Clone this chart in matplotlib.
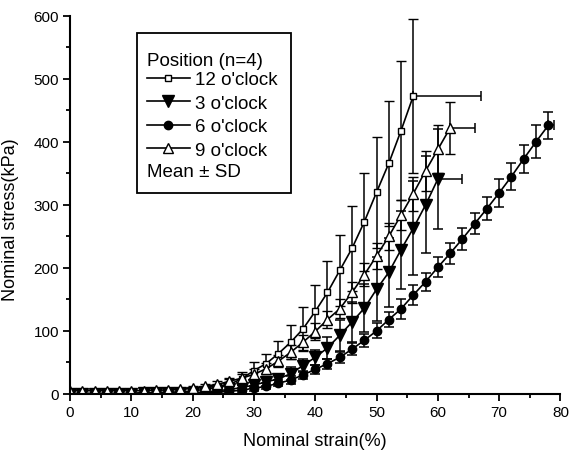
import numpy as np
import matplotlib
matplotlib.use('Agg')
import matplotlib.pyplot as plt
from matplotlib.patches import Rectangle

plt.rcParams['font.family'] = ['Liberation Sans', 'DejaVu Sans']

# strain (%) sampled every 2 %
strain_12 = np.arange(0, 57, 2)
stress_12 = [1, 1, 1, 1, 1, 1, 2, 2, 3, 3, 5, 7, 10, 15, 24, 37, 48, 64, 82, 103,
             131, 161, 196, 231, 273, 320, 366, 418, 473]
sd_12 = [1, 1, 1, 1, 1, 1, 1, 1, 2, 2, 3, 4, 6, 8, 10, 13, 16, 20, 27, 35,
         42, 50, 56, 68, 78, 88, 99, 110, 122]

strain_3 = np.arange(0, 61, 2)
stress_3 = [0, 0, 0, 0, 0, 0, 1, 1, 1, 1, 2, 3, 5, 7, 10, 14, 19, 24, 32, 45,
            58, 73, 93, 114, 136, 166, 193, 229, 263, 300, 341]
sd_3 = [1, 1, 1, 1, 1, 1, 1, 1, 1, 1, 1, 2, 2, 3, 4, 5, 6, 8, 10, 11,
        12, 18, 25, 32, 38, 51, 55, 62, 75, 77, 80]

strain_6 = np.arange(0, 79, 2)
stress_6 = [0, 0, 0, 0, 0, 0, 0, 1, 1, 1, 1, 2, 3, 4, 6, 9, 12, 17, 22, 30,
            39, 48, 58, 71, 85, 100, 118, 135, 157, 178, 201, 223, 246, 270, 294, 319,
            345, 373, 400, 426]
sd_6 = [1, 1, 1, 1, 1, 1, 1, 1, 1, 1, 1, 1, 2, 2, 3, 4, 5, 5, 6, 7,
        7, 8, 9, 10, 10, 12, 12, 16, 16, 14, 16, 17, 17, 17, 18, 22,
        21, 22, 26, 22]

strain_9 = np.arange(0, 63, 2)
stress_9 = [5, 5, 5, 5, 5, 5, 5, 6, 6, 7, 9, 12, 15, 20, 25, 31, 40, 52, 66, 82,
            99, 118, 135, 161, 189, 219, 250, 284, 318, 354, 388, 422]
sd_9 = [1, 1, 1, 1, 1, 1, 1, 1, 2, 2, 3, 4, 5, 6, 7, 8, 9, 10, 11, 12,
        13, 14, 15, 16, 18, 20, 22, 24, 27, 32, 38, 42]

# strain SD at the final point of each curve
xsd_end = {'12': 11, '3': 4, '6': 1, '9': 4}

fig = plt.figure(figsize=(5.69, 4.56), dpi=100)
ax = fig.add_axes([0.123, 0.134, 0.862, 0.829])

common = dict(color='black', lw=1.2, elinewidth=1.1, capsize=3.5, capthick=1.1)

series = [
    ('12', strain_12, stress_12, sd_12, dict(marker='s', ms=4, mfc='white', mew=1.0), "12 o'clock"),
    ('3', strain_3, stress_3, sd_3, dict(marker='v', ms=8, mfc='black'), "3 o'clock"),
    ('6', strain_6, stress_6, sd_6, dict(marker='o', ms=6, mfc='black'), "6 o'clock"),
    ('9', strain_9, stress_9, sd_9, dict(marker='^', ms=7, mfc='white', mew=1.0), "9 o'clock"),
]

handles = []
for key, x, y, sd, mk, lab in series:
    ax.errorbar(x, y, yerr=sd, mec='black', label=lab, **mk, **common)
    ax.errorbar(x[-1], y[-1], xerr=[[0], [xsd_end[key]]], fmt='none',
                **{k: v for k, v in common.items() if k != 'lw'})
    h, = ax.plot([], [], color='black', lw=1.2, mec='black', **mk)
    handles.append(h)

ax.set_xlim(0, 80)
ax.set_ylim(0, 600)
ax.set_xticks(np.arange(0, 81, 10))
ax.set_xticks(np.arange(5, 80, 10), minor=True)
ax.set_yticks(np.arange(0, 601, 100))
ax.set_yticks(np.arange(50, 600, 100), minor=True)
ax.tick_params(which='major', direction='out', length=5, width=1.3, labelsize=11, pad=3)
ax.tick_params(which='minor', direction='out', length=3, width=1.3)
for s in ['top', 'right']:
    ax.spines[s].set_visible(False)
for s in ['left', 'bottom']:
    ax.spines[s].set_linewidth(1.5)

ax.set_xlabel('Nominal strain(%)', fontsize=13, labelpad=9)
ax.set_ylabel('Nominal stress(kPa)', fontsize=13)
ax.yaxis.set_label_coords(-0.103, 0.463)

leg = ax.legend(handles, [s[5] for s in series],
                loc='center left', bbox_to_anchor=(0.156, 0.738), frameon=False,
                fontsize=13.5, handlelength=2.3,
                handletextpad=0.27, labelspacing=0.34, borderaxespad=0, borderpad=0)
ax.text(0.156, 0.881, 'Position (n=4)', transform=ax.transAxes, fontsize=13.5, va='center')
ax.text(0.156, 0.587, 'Mean \u00b1 SD', transform=ax.transAxes, fontsize=13.5, va='center')
ax.add_patch(Rectangle((0.136, 0.532), 0.314, 0.423, transform=ax.transAxes,
                       fill=False, lw=1.3, ec='black', zorder=5))

fig.savefig('out.png', dpi=100)
